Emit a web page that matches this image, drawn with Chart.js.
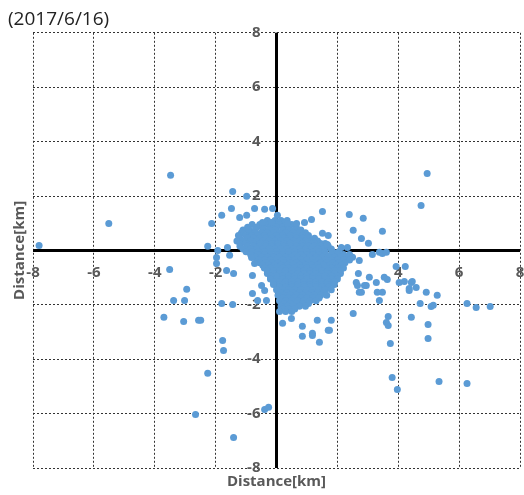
<!DOCTYPE html>
<html>
<head>
<meta charset="utf-8">
<script src="https://cdn.jsdelivr.net/npm/chart.js@4.4.1/dist/chart.umd.min.js"></script>
<style>
  html, body { margin: 0; padding: 0; background: #fff; }
  #wrap { width: 524px; height: 495px; position: relative; }
</style>
</head>
<body>
<div id="wrap"><canvas id="scatterChart"></canvas></div>
<script>
const chartTitle = '(2017/6/16)';
const axisTitle = 'Distance[km]';
const tickValues = [-8, -6, -4, -2, 0, 2, 4, 6, 8];

// dense cluster around the origin, [x, y] in km
const clusterPoints = [
  [-0.3, 1.1], [-0.05, 1.1], [0.15, 1.1], [0.35, 1.1],
  [-0.2, 1.0], [0.05, 1.0], [0.25, 1.0],
  [-0.8, 0.95], [-0.55, 0.95], [-0.35, 0.95], [-0.1, 0.95], [0.1, 0.95], [0.3, 0.95], [0.5, 0.95],
  [-0.95, 0.85], [-0.65, 0.85], [-0.45, 0.85], [-0.2, 0.85], [0.0, 0.85], [0.2, 0.85], [0.4, 0.85], [0.65, 0.85],
  [-1.1, 0.75], [-0.9, 0.75], [-0.7, 0.75], [-0.45, 0.75], [-0.25, 0.75], [-0.05, 0.75], [0.2, 0.75], [0.4, 0.75], [0.6, 0.75], [0.8, 0.75],
  [-1.15, 0.65], [-0.9, 0.65], [-0.7, 0.65], [-0.5, 0.65], [-0.3, 0.65], [-0.1, 0.65], [0.1, 0.65], [0.3, 0.65], [0.55, 0.65], [0.75, 0.65], [0.95, 0.65],
  [-1.25, 0.55], [-1.0, 0.55], [-0.8, 0.55], [-0.6, 0.55], [-0.4, 0.55], [-0.2, 0.55], [0.0, 0.55], [0.2, 0.55], [0.45, 0.55], [0.65, 0.55], [0.85, 0.55], [1.05, 0.55],
  [-1.2, 0.45], [-0.95, 0.45], [-0.75, 0.45], [-0.55, 0.45], [-0.35, 0.45], [-0.15, 0.45], [0.05, 0.45], [0.25, 0.45], [0.45, 0.45], [0.65, 0.45], [0.85, 0.45], [1.05, 0.45], [1.25, 0.45],
  [-1.3, 0.35], [-1.1, 0.35], [-0.85, 0.35], [-0.65, 0.35], [-0.45, 0.35], [-0.25, 0.35], [-0.05, 0.35], [0.15, 0.35], [0.35, 0.35], [0.55, 0.35], [0.75, 0.35], [0.95, 0.35], [1.15, 0.35], [1.35, 0.35],
  [-1.2, 0.25], [-1.0, 0.25], [-0.75, 0.25], [-0.55, 0.25], [-0.35, 0.25], [-0.15, 0.25], [0.05, 0.25], [0.25, 0.25], [0.45, 0.25], [0.65, 0.25], [0.85, 0.25], [1.05, 0.25], [1.25, 0.25], [1.45, 0.25], [1.6, 0.25],
  [-1.2, 0.15], [-0.95, 0.15], [-0.75, 0.15], [-0.55, 0.15], [-0.35, 0.15], [-0.15, 0.15], [0.05, 0.15], [0.25, 0.15], [0.45, 0.15], [0.65, 0.15], [0.85, 0.15], [1.05, 0.15], [1.25, 0.15], [1.45, 0.15], [1.7, 0.15],
  [-1.1, 0.05], [-0.85, 0.05], [-0.65, 0.05], [-0.45, 0.05], [-0.25, 0.05], [-0.05, 0.05], [0.15, 0.05], [0.35, 0.05], [0.55, 0.05], [0.75, 0.05], [0.95, 0.05], [1.15, 0.05], [1.35, 0.05], [1.55, 0.05], [1.8, 0.05],
  [-1.0, -0.05], [-0.8, -0.05], [-0.6, -0.05], [-0.4, -0.05], [-0.2, -0.05], [0.0, -0.05], [0.2, -0.05], [0.4, -0.05], [0.6, -0.05], [0.8, -0.05], [1.0, -0.05], [1.2, -0.05], [1.4, -0.05], [1.6, -0.05], [1.85, -0.05], [2.05, -0.05],
  [-0.85, -0.15], [-0.6, -0.15], [-0.4, -0.15], [-0.2, -0.15], [0.0, -0.15], [0.2, -0.15], [0.4, -0.15], [0.6, -0.15], [0.8, -0.15], [1.0, -0.15], [1.2, -0.15], [1.4, -0.15], [1.6, -0.15], [1.8, -0.15], [2.0, -0.15], [2.2, -0.15], [2.4, -0.15],
  [-0.7, -0.25], [-0.5, -0.25], [-0.3, -0.25], [-0.1, -0.25], [0.1, -0.25], [0.3, -0.25], [0.5, -0.25], [0.7, -0.25], [0.9, -0.25], [1.1, -0.25], [1.3, -0.25], [1.5, -0.25], [1.7, -0.25], [1.9, -0.25], [2.1, -0.25], [2.3, -0.25], [2.5, -0.25],
  [-0.6, -0.35], [-0.4, -0.35], [-0.2, -0.35], [0.0, -0.35], [0.2, -0.35], [0.4, -0.35], [0.6, -0.35], [0.8, -0.35], [1.0, -0.35], [1.2, -0.35], [1.4, -0.35], [1.6, -0.35], [1.8, -0.35], [2.0, -0.35], [2.2, -0.35], [2.4, -0.35],
  [-0.55, -0.45], [-0.35, -0.45], [-0.15, -0.45], [0.05, -0.45], [0.25, -0.45], [0.45, -0.45], [0.65, -0.45], [0.85, -0.45], [1.05, -0.45], [1.25, -0.45], [1.45, -0.45], [1.65, -0.45], [1.85, -0.45], [2.05, -0.45], [2.25, -0.45],
  [-0.45, -0.55], [-0.25, -0.55], [-0.05, -0.55], [0.15, -0.55], [0.35, -0.55], [0.55, -0.55], [0.75, -0.55], [0.95, -0.55], [1.15, -0.55], [1.35, -0.55], [1.55, -0.55], [1.75, -0.55], [1.95, -0.55], [2.15, -0.55],
  [-0.4, -0.65], [-0.2, -0.65], [0.0, -0.65], [0.2, -0.65], [0.4, -0.65], [0.6, -0.65], [0.8, -0.65], [1.0, -0.65], [1.2, -0.65], [1.4, -0.65], [1.6, -0.65], [1.8, -0.65], [2.0, -0.65], [2.2, -0.65],
  [-0.3, -0.75], [-0.1, -0.75], [0.1, -0.75], [0.3, -0.75], [0.5, -0.75], [0.7, -0.75], [0.9, -0.75], [1.1, -0.75], [1.3, -0.75], [1.5, -0.75], [1.7, -0.75], [1.9, -0.75], [2.1, -0.75],
  [-0.3, -0.85], [-0.1, -0.85], [0.1, -0.85], [0.3, -0.85], [0.5, -0.85], [0.7, -0.85], [0.9, -0.85], [1.1, -0.85], [1.3, -0.85], [1.5, -0.85], [1.7, -0.85], [1.9, -0.85], [2.1, -0.85],
  [-0.2, -0.95], [0.0, -0.95], [0.2, -0.95], [0.4, -0.95], [0.6, -0.95], [0.8, -0.95], [1.0, -0.95], [1.2, -0.95], [1.4, -0.95], [1.6, -0.95], [1.8, -0.95], [2.0, -0.95],
  [-0.2, -1.05], [0.0, -1.05], [0.2, -1.05], [0.4, -1.05], [0.6, -1.05], [0.8, -1.05], [1.0, -1.05], [1.2, -1.05], [1.4, -1.05], [1.6, -1.05], [1.8, -1.05], [2.0, -1.05],
  [-0.1, -1.15], [0.1, -1.15], [0.3, -1.15], [0.5, -1.15], [0.7, -1.15], [0.9, -1.15], [1.1, -1.15], [1.3, -1.15], [1.5, -1.15], [1.7, -1.15], [1.9, -1.15],
  [-0.1, -1.25], [0.1, -1.25], [0.3, -1.25], [0.5, -1.25], [0.7, -1.25], [0.9, -1.25], [1.1, -1.25], [1.3, -1.25], [1.5, -1.25], [1.7, -1.25], [1.9, -1.25],
  [0.1, -1.35], [0.3, -1.35], [0.5, -1.35], [0.7, -1.35], [0.9, -1.35], [1.1, -1.35], [1.3, -1.35], [1.5, -1.35], [1.7, -1.35],
  [0.0, -1.45], [0.2, -1.45], [0.4, -1.45], [0.6, -1.45], [0.8, -1.45], [1.0, -1.45], [1.2, -1.45], [1.4, -1.45], [1.6, -1.45], [1.8, -1.45],
  [0.15, -1.55], [0.35, -1.55], [0.55, -1.55], [0.75, -1.55], [0.95, -1.55], [1.15, -1.55], [1.35, -1.55], [1.55, -1.55],
  [0.05, -1.65], [0.25, -1.65], [0.45, -1.65], [0.65, -1.65], [0.85, -1.65], [1.05, -1.65], [1.25, -1.65], [1.45, -1.65], [1.65, -1.65],
  [0.2, -1.75], [0.4, -1.75], [0.6, -1.75], [0.8, -1.75], [1.0, -1.75], [1.2, -1.75], [1.4, -1.75],
  [0.1, -1.85], [0.3, -1.85], [0.5, -1.85], [0.7, -1.85], [0.9, -1.85], [1.1, -1.85], [1.3, -1.85],
  [0.25, -1.95], [0.45, -1.95], [0.65, -1.95], [0.85, -1.95], [1.05, -1.95],
  [0.15, -2.05], [0.35, -2.05], [0.55, -2.05], [0.75, -2.05], [0.95, -2.05],
  [0.2, -2.15], [0.4, -2.15], [0.6, -2.15],
  [0.1, -2.25], [0.3, -2.25], [0.5, -2.25]
];

// scattered points away from the cluster
const outlierPoints = [
  [-7.80, 0.18], [-5.51, 0.99], [-3.48, 2.76], [-3.51, -0.70], [-2.95, -1.43],
  [-3.38, -1.84], [-3.02, -1.84], [-3.70, -2.46], [-3.05, -2.61], [-2.56, -2.57],
  [-1.97, -0.48], [-1.64, -0.74], [-1.41, -0.85], [-1.80, -1.95], [-1.44, -1.99],
  [-2.49, -2.57], [-1.77, -3.31], [-1.97, -0.26], [-1.54, -0.18], [-0.82, -0.26],
  [-0.72, -0.48], [-0.79, -0.92], [-0.79, -1.58], [-0.49, -1.29], [-0.39, -1.47],
  [-0.33, -1.84], [-0.62, -1.84], [-1.74, -3.68], [-2.26, -4.52], [-2.66, -6.03],
  [-1.41, -6.88], [-0.39, -5.85], [-0.26, -5.77], [0.85, -3.16], [1.18, -3.13],
  [1.41, -3.38], [1.70, -2.94], [3.74, -3.42], [4.98, -3.24], [3.80, -4.67],
  [3.97, -5.11], [5.34, -4.82], [6.26, -4.89], [3.48, -1.54], [3.67, -2.43],
  [3.61, -2.65], [3.67, -2.76], [4.43, -2.46], [4.98, -2.72], [4.72, -1.95],
  [5.08, -2.06], [5.15, -2.02], [5.28, -1.65], [4.92, -1.54], [4.36, -1.47],
  [6.26, -1.95], [6.56, -2.10], [7.02, -2.06], [4.95, 2.83], [4.75, 1.65],
  [3.48, 0.70], [3.48, -0.11], [3.61, -0.07], [3.93, -0.59], [4.23, -0.59],
  [3.54, -0.99], [3.64, -1.07], [4.20, -1.14], [4.46, -1.14], [4.36, -1.40],
  [4.59, -1.36], [1.51, 1.43], [2.39, 1.32], [2.85, 1.18], [2.52, 0.74],
  [2.79, 0.44], [3.02, 0.26], [3.15, -0.15], [2.69, -0.85], [2.62, -1.18],
  [2.95, -1.29], [3.28, -1.18], [2.72, -1.54], [3.31, -1.54], [3.38, -1.84],
  [4.03, -1.18], [4.43, -1.18], [2.52, -2.32], [0.85, -2.79], [1.74, -2.94],
  [0.20, -2.68], [0.49, -2.50], [1.34, -2.57], [1.80, -2.57], [0.36, 0.99],
  [0.66, 0.99], [0.92, 1.03], [1.15, 1.14], [1.51, 0.63], [1.70, 0.55],
  [1.67, 0.22], [2.13, 0.11], [2.33, 0.11], [3.38, -0.07], [-1.44, 2.17],
  [-0.98, 1.99], [-1.48, 1.54], [-1.80, 1.29], [-2.13, 0.99], [-2.26, 0.15],
  [-1.93, 0.00], [-1.21, 1.21], [-0.98, 1.29], [-0.72, 1.54], [-0.39, 1.51],
  [-0.13, 1.54], [0.03, 1.29], [-0.16, 1.03], [-0.46, 1.03], [-1.61, 0.11],
  [2.72, -0.37], [3.05, -0.99], [2.66, -1.29], [2.89, -1.29], [2.79, -1.54],
  [1.18, -3.05]
];

// thick zero axes with tick labels sitting on them
const crossAxes = {
  id: 'crossAxes',
  beforeDatasetsDraw(chart) {
    const { ctx, chartArea: a, scales: { x, y } } = chart;
    const x0 = x.getPixelForValue(0);
    const y0 = y.getPixelForValue(0);
    ctx.save();
    ctx.strokeStyle = '#000000';
    ctx.lineWidth = 3;
    ctx.beginPath();
    ctx.moveTo(a.left, y0);
    ctx.lineTo(a.right, y0);
    ctx.moveTo(x0, a.top);
    ctx.lineTo(x0, a.bottom);
    ctx.stroke();

    ctx.font = 'bold 15px "Open Sans", sans-serif';
    ctx.fillStyle = '#595959';
    ctx.textBaseline = 'middle';
    ctx.textAlign = 'center';
    tickValues.forEach(v => ctx.fillText(String(v), x.getPixelForValue(v), y0 + 22));
    ctx.textAlign = 'right';
    tickValues.forEach(v => ctx.fillText(String(v), x0 - 16, y.getPixelForValue(v)));
    ctx.restore();
  }
};

const gridOpts = { color: '#333333', lineWidth: 1, drawTicks: false };
const titleFont = { family: "'Open Sans', sans-serif", size: 15, weight: 'bold' };

new Chart(document.getElementById('scatterChart'), {
  type: 'scatter',
  data: {
    datasets: [{
      label: 'points',
      data: clusterPoints.concat(outlierPoints).map(p => ({ x: p[0], y: p[1] })),
      backgroundColor: '#5b9bd5',
      borderWidth: 0,
      pointRadius: 3.5
    }]
  },
  options: {
    responsive: true,
    maintainAspectRatio: false,
    animation: false,
    layout: { padding: { left: 8, right: 3, top: 0, bottom: 0 } },
    plugins: {
      legend: { display: false },
      tooltip: { enabled: false },
      title: {
        display: true,
        text: chartTitle,
        align: 'start',
        color: '#222222',
        font: { family: "'Open Sans', sans-serif", size: 19, weight: 'normal' },
        padding: { top: 8, bottom: 2 }
      }
    },
    scales: {
      x: {
        min: -8, max: 8,
        afterBuildTicks: s => { s.ticks = tickValues.map(v => ({ value: v })); },
        ticks: { display: false },
        grid: gridOpts,
        border: { display: false, dash: [2, 2] },
        title: { display: true, text: axisTitle, color: '#595959', font: titleFont, padding: { top: 5, bottom: 4 } }
      },
      y: {
        min: -8, max: 8,
        afterBuildTicks: s => { s.ticks = tickValues.map(v => ({ value: v })); },
        ticks: { display: false },
        grid: gridOpts,
        border: { display: false, dash: [2, 2] },
        title: { display: true, text: axisTitle, color: '#595959', font: titleFont, padding: { top: 3, bottom: 4 } }
      }
    }
  },
  plugins: [crossAxes]
});
</script>
</body>
</html>
